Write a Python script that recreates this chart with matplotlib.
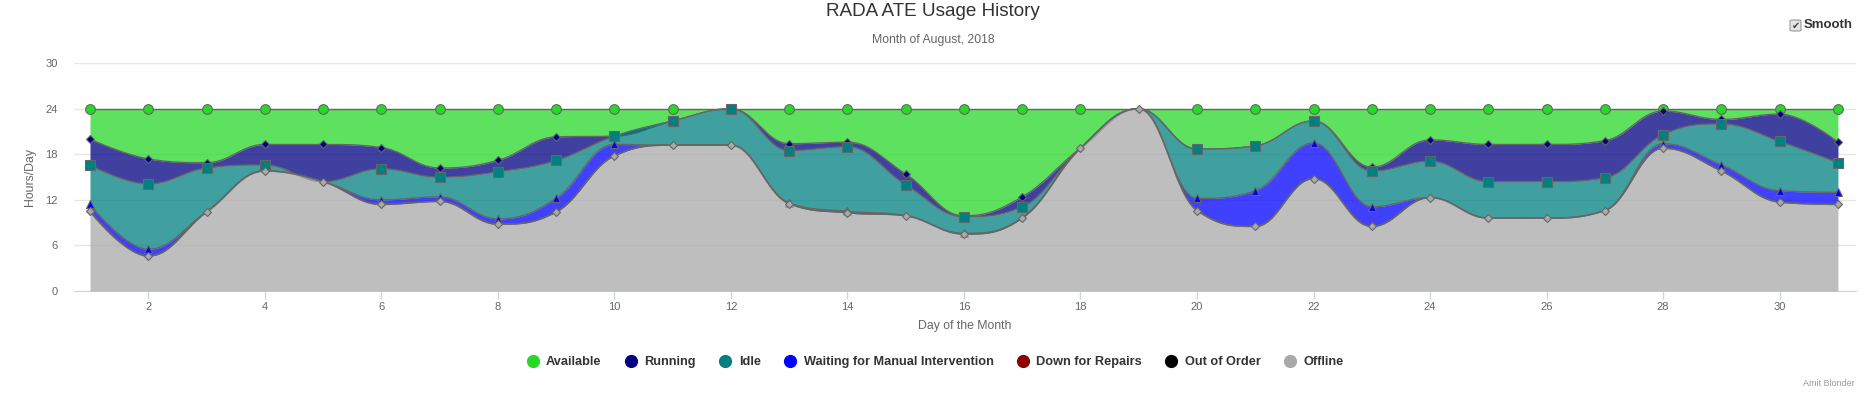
import numpy as np
import matplotlib
matplotlib.use("Agg")
import matplotlib.pyplot as plt
from matplotlib.lines import Line2D
from matplotlib.patches import FancyBboxPatch

plt.rcParams['font.family'] = ['Liberation Sans', 'DejaVu Sans']

# hours per day for each state
days = list(range(1, 32))
offline = [10.5, 4.6, 10.4, 15.8, 14.4, 11.4, 11.8, 8.8, 10.4, 17.8, 19.2, 19.2, 11.5, 10.3, 9.9, 7.5,
           9.6, 18.8, 24.0, 10.6, 8.5, 14.8, 8.5, 12.3, 9.6, 9.6, 10.6, 18.8, 15.8, 11.7, 11.4]
out_of_order = [0.0] * 31
down_for_repairs = [0.0] * 31
waiting = [0.9, 0.9, 0.0, 0.0, 0.0, 0.6, 0.6, 0.7, 1.8, 1.5, 0.0, 0.0, 0.1, 0.2, 0.0, 0.1,
           0.0, 0.0, 0.0, 1.6, 4.7, 4.7, 2.6, 0.0, 0.0, 0.0, 0.0, 0.6, 0.8, 1.5, 1.6]
idle = [5.2, 8.6, 5.8, 0.8, 0.0, 4.1, 2.6, 6.2, 5.0, 1.1, 3.2, 4.8, 6.9, 8.5, 4.1, 2.2,
        1.5, 0.0, 0.0, 6.5, 5.9, 2.9, 4.7, 4.8, 4.8, 4.8, 4.3, 1.2, 5.4, 6.5, 3.9]
running = [3.4, 3.3, 0.7, 2.7, 4.9, 2.8, 1.2, 1.5, 3.1, 0.0, 0.0, 0.0, 0.9, 0.6, 1.4, 0.1,
           1.3, 0.0, 0.0, 0.0, 0.0, 0.0, 0.5, 2.8, 4.9, 4.9, 4.9, 3.1, 0.6, 3.6, 2.7]
available = [4.0, 6.6, 7.1, 4.7, 4.7, 5.1, 7.8, 6.8, 3.7, 3.6, 1.6, 0.0, 4.6, 4.4, 8.6, 14.1,
             11.6, 5.2, 0.0, 5.3, 4.9, 1.6, 7.7, 4.1, 4.7, 4.7, 4.2, 0.3, 1.4, 0.7, 4.4]

# legend / stacking order (top of stack first, like highcharts)
names = ['Available', 'Running', 'Idle', 'Waiting for Manual Intervention',
         'Down for Repairs', 'Out of Order', 'Offline']
values = [available, running, idle, waiting, down_for_repairs, out_of_order, offline]
colors = ['#28d828', '#000080', '#008080', '#0000ff', '#8b0000', '#000000', '#a9a9a9']
markers = ['o', 'D', 's', '^', 'v', 'o', 'D']
msizes = [7, 4.5, 6.5, 6, 6, 6, 4.5]


def hc_spline(xs, ys, smoothing=1.5, steps=30):
    # same control point rule as highcharts areaspline
    xs = np.asarray(xs, float)
    ys = np.asarray(ys, float)
    n = len(xs)
    lcx, lcy = xs.copy(), ys.copy()
    rcx, rcy = xs.copy(), ys.copy()
    d = smoothing + 1
    for i in range(1, n - 1):
        px, py = xs[i], ys[i]
        ax_, ay_ = xs[i - 1], ys[i - 1]
        nx, ny = xs[i + 1], ys[i + 1]
        lx = (smoothing * px + ax_) / d
        ly = (smoothing * py + ay_) / d
        rx = (smoothing * px + nx) / d
        ry = (smoothing * py + ny) / d
        if rx != lx:
            corr = (ry - ly) * (rx - px) / (rx - lx) + py - ry
            ly += corr
            ry += corr
        if ly > ay_ and ly > py:
            ly = max(ay_, py)
            ry = 2 * py - ly
        elif ly < ay_ and ly < py:
            ly = min(ay_, py)
            ry = 2 * py - ly
        if ry > ny and ry > py:
            ry = max(ny, py)
            ly = 2 * py - ry
        elif ry < ny and ry < py:
            ry = min(ny, py)
            ly = 2 * py - ry
        lcx[i], lcy[i], rcx[i], rcy[i] = lx, ly, rx, ry
    t = np.linspace(0, 1, steps + 1)[1:]
    a, b, c, e = (1 - t) ** 3, 3 * (1 - t) ** 2 * t, 3 * (1 - t) * t ** 2, t ** 3
    out_x, out_y = [xs[0]], [ys[0]]
    for i in range(1, n):
        out_x.extend(a * xs[i - 1] + b * rcx[i - 1] + c * lcx[i] + e * xs[i])
        out_y.extend(a * ys[i - 1] + b * rcy[i - 1] + c * lcy[i] + e * ys[i])
    return np.array(out_x), np.array(out_y)


W, H = 1861, 396
fig = plt.figure(figsize=(W / 100, H / 100), dpi=100)
ax = fig.add_axes([73.5 / W, 105 / H, (1856 - 73.5) / W, 228 / H])

# cumulative tops, bottom of stack is Offline
tops = []
run = np.zeros(31)
for v in values[::-1]:
    run = run + np.array(v)
    tops.append(run.copy())
tops = tops[::-1]
bottoms = tops[1:] + [np.zeros(31)]

for k, name in enumerate(names):
    z = 2 + k
    xd, top_d = hc_spline(days, tops[k])
    _, bot_d = hc_spline(days, bottoms[k])
    ax.fill_between(xd, bot_d, top_d, color=colors[k], alpha=0.75, lw=0, zorder=z)
    ax.plot(xd, top_d, color='#666666', lw=1.0, zorder=z + 0.1)
    # points with no hours get no marker
    vals = np.array(values[k])
    mx = np.array(days)[vals > 0]
    my = tops[k][vals > 0]
    if len(mx):
        ax.plot(mx, my, linestyle='', marker=markers[k], ms=msizes[k],
                mfc=colors[k], mec='#666666', mew=0.8, zorder=z + 0.2)

ax.set_xlim(0.717, 31.31)
ax.set_ylim(0, 30.03)
ax.set_yticks(range(0, 31, 6))
ax.set_xticks(range(2, 31, 2))
ax.grid(axis='y', color='#e6e6e6', lw=1)
ax.set_axisbelow(True)
for s in ['top', 'right', 'left']:
    ax.spines[s].set_visible(False)
ax.spines['bottom'].set_color('#ccd6eb')
ax.tick_params(axis='y', length=0, pad=11.5, labelsize=8, labelcolor='#666666')
ax.tick_params(axis='x', length=6, width=1, color='#ccd6eb', pad=2, labelsize=8,
               labelcolor='#666666')

fig.text(30 / W, 1 - 177 / H, 'Hours/Day', rotation=90, ha='center', va='center',
         fontsize=8.8, color='#666666')
fig.text(965 / W, 1 - 326 / H, 'Day of the Month', ha='center', va='center',
         fontsize=8.8, color='#666666')
fig.text(933 / W, 1 - 12 / H, 'RADA ATE Usage History', ha='center', va='center',
         fontsize=13.6, color='#333333')
fig.text(933 / W, 1 - 40 / H, 'Month of August, 2018', ha='center', va='center',
         fontsize=8.8, color='#666666')
fig.text(1855 / W, 1 - 384 / H, 'Amit Blonder', ha='right', va='center',
         fontsize=6.5, color='#999999')

# "Smooth" checkbox
box = FancyBboxPatch((1790 / W, 1 - 31 / H), 11 / W, 11 / H, boxstyle='round,pad=0,rounding_size=0.002',
                     transform=fig.transFigure, facecolor='#e4e4e4', edgecolor='#999999', lw=0.8)
fig.patches.append(box)
fig.text(1795.5 / W, 1 - 25.5 / H, '\u2714', ha='center', va='center', fontsize=7,
         color='#444444', family=['DejaVu Sans'])
fig.text(1804 / W, 1 - 25 / H, 'Smooth', ha='left', va='center', fontsize=9.5,
         fontweight='bold', color='#333333')

handles = [Line2D([], [], linestyle='', marker='o', ms=8.5, mfc=c, mec=c) for c in colors]
fig.legend(handles, names, ncol=7, loc='center', bbox_to_anchor=(935 / W, 1 - 362 / H),
           frameon=False, prop={'weight': 'bold', 'size': 9.2}, labelcolor='#333333',
           handlelength=1.0, handletextpad=0.55, columnspacing=1.8)

fig.savefig('out.png', dpi=100)
